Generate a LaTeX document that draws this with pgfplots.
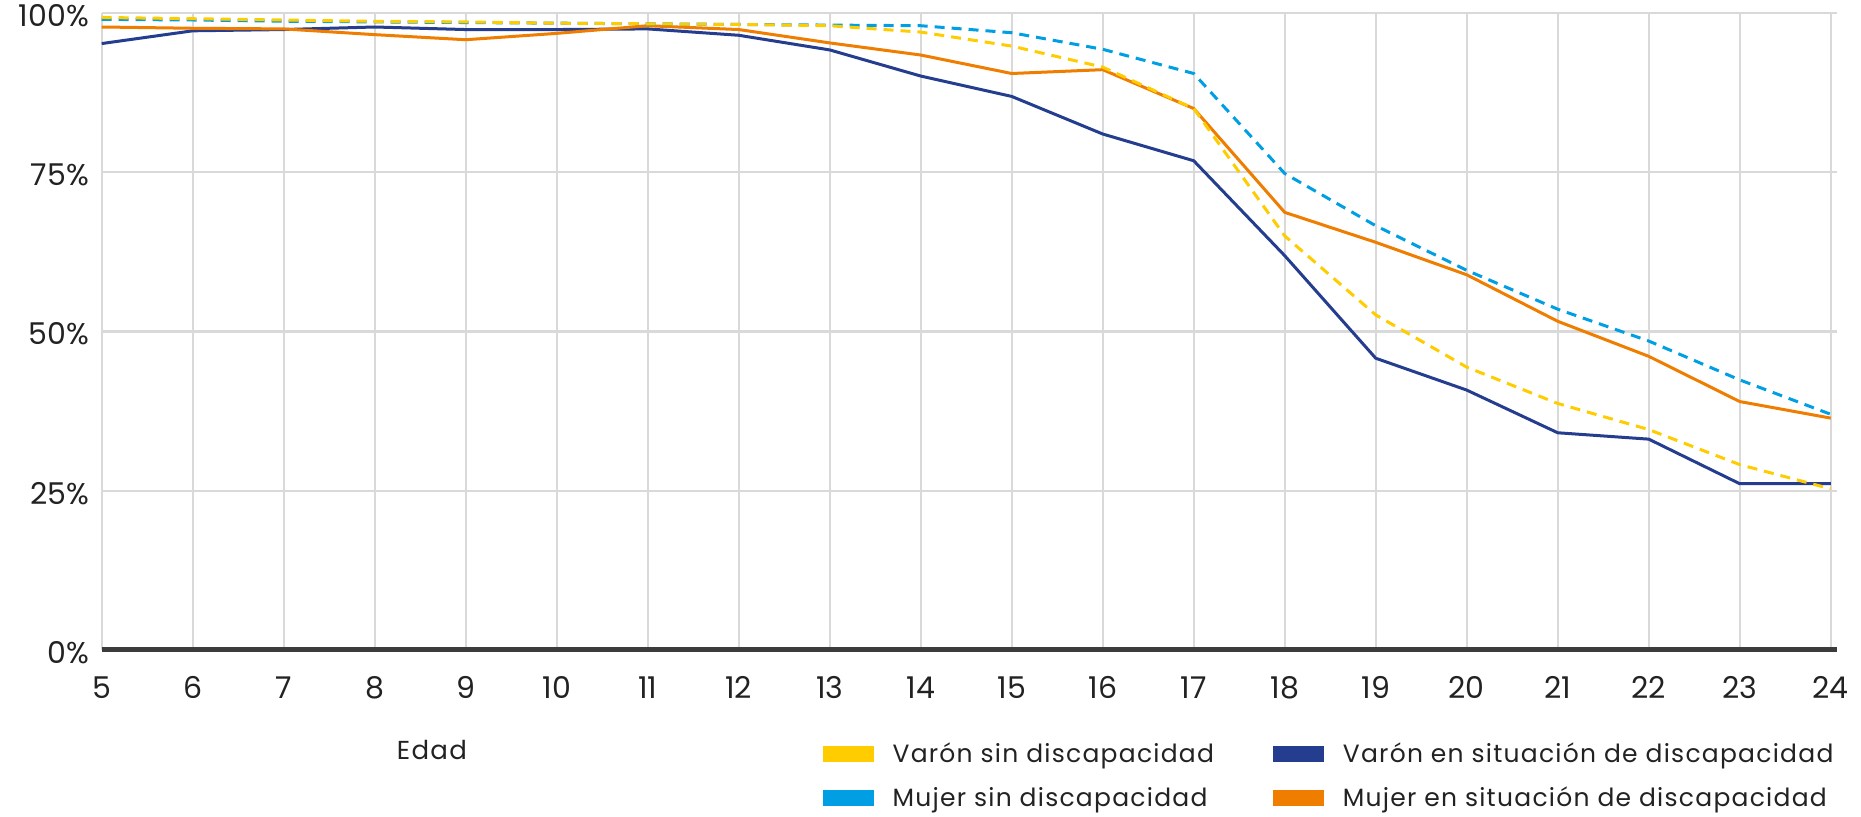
\documentclass[border=0pt]{standalone}
\usepackage{fontspec}
\setmainfont{Poppins}[LetterSpace=5]
\newfontfamily\tickfont{Poppins}
\usepackage{pgfplots}
\pgfplotsset{compat=1.18}
\definecolor{cyel}{HTML}{FFCC00}
\definecolor{clblue}{HTML}{009FE3}
\definecolor{cdblue}{HTML}{253D8E}
\definecolor{corange}{HTML}{EF7D00}
\definecolor{cgrid}{HTML}{D9D9D9}
\definecolor{czero}{HTML}{3C3C3C}
\definecolor{ctext}{HTML}{222222}
\newcommand{\ff}{\fontsize{12.5}{15}\selectfont}
\newcommand{\tf}{\tickfont\fontsize{15}{18}\selectfont}
\begin{document}
\begin{tikzpicture}[font=\ff, text=ctext]
\begin{axis}[
  at={(50.85pt,83.5pt)}, anchor=south west,
  scale only axis, width=867.7pt, height=318.5pt,
  xmin=5, xmax=24.07, ymin=0, ymax=100,
  clip=false,
  axis line style={draw=none},
  xtick={5,...,24}, ytick={25,50,75,100},
  extra y ticks={0},
  extra y tick style={grid style={color=czero, line width=2.5pt}},
  xmajorgrids, ymajorgrids,
  grid style={color=cgrid, line width=1.2pt},
  major tick length=0pt,
  /pgf/number format/assume math mode=true,
  yticklabel={\pgfmathprintnumber{\tick}\%},
  tick label style={font=\tf, text=ctext},
  yticklabel style={anchor=east, inner sep=0pt, xshift=-6.2pt, yshift=-1.2pt},
  xticklabel style={anchor=base, inner sep=0pt, yshift=-24.15pt},
  xlabel={Edad},
  every axis x label/.style={at={(rel axis cs:0.1903,-0.1570)}, anchor=center, font=\fontsize{13}{15}\selectfont, text=ctext},
  legend columns=2,
  legend cell align=left,
  legend style={at={(rel axis cs:0.4105,-0.1283)}, anchor=north west, draw=none, fill=none,
    inner sep=0pt, font=\ff, text=ctext,
    nodes={inner sep=0pt, text height=15.4pt, text depth=6.6pt},
    column sep=5.55pt, row sep=0pt,
    /tikz/every even column/.append style={column sep=0pt}},
  legend image code/.code={\draw[#1, solid, line width=8pt] (0pt,0pt) -- (25.5pt,0pt);},
]
\addplot[forget plot, color=cdblue, line width=1.5pt] coordinates {
(5,95.2) (6,97.2) (7,97.4) (8,97.8) (9,97.4) (10,97.4) (11,97.5) (12,96.5) (13,94.2) (14,90.1)
(15,86.9) (16,81.0) (17,76.8) (18,61.9) (19,45.8) (20,40.8) (21,34.1) (22,33.1) (23,26.1) (24,26.1)};
\addplot[forget plot, color=corange, line width=1.5pt] coordinates {
(5,97.8) (6,97.6) (7,97.5) (8,96.6) (9,95.8) (10,96.8) (11,98.0) (12,97.4) (13,95.3) (14,93.4)
(15,90.5) (16,91.1) (17,85.0) (18,68.7) (19,64.0) (20,58.9) (21,51.6) (22,46.1) (23,39.0) (24,36.4)};
\addplot[forget plot, color=clblue, line width=1.5pt, dash pattern=on 5pt off 3.5pt] coordinates {
(5,99.0) (6,98.9) (7,98.7) (8,98.6) (9,98.5) (10,98.4) (11,98.3) (12,98.2) (13,98.1) (14,98.0)
(15,96.9) (16,94.3) (17,90.5) (18,74.8) (19,66.6) (20,59.6) (21,53.5) (22,48.5) (23,42.4) (24,37.0)};
\addplot[forget plot, color=cyel, line width=1.5pt, dash pattern=on 5pt off 3.5pt] coordinates {
(5,99.3) (6,99.1) (7,98.9) (8,98.7) (9,98.6) (10,98.4) (11,98.3) (12,98.2) (13,98.0) (14,97.0)
(15,94.8) (16,91.5) (17,85.0) (18,65.0) (19,52.6) (20,44.4) (21,38.7) (22,34.6) (23,29.1) (24,25.3)};
\addlegendimage{color=cyel}
\addlegendentry{\makebox[186.1pt][l]{Varón sin discapacidad}}
\addlegendimage{color=cdblue}
\addlegendentry{Varón en situación de discapacidad}
\addlegendimage{color=clblue}
\addlegendentry{\makebox[186.1pt][l]{Mujer sin discapacidad}}
\addlegendimage{color=corange}
\addlegendentry{Mujer en situación de discapacidad}
\end{axis}
\pgfresetboundingbox
\path (0,0) rectangle (930.5pt,408.5pt);
\end{tikzpicture}
\end{document}
